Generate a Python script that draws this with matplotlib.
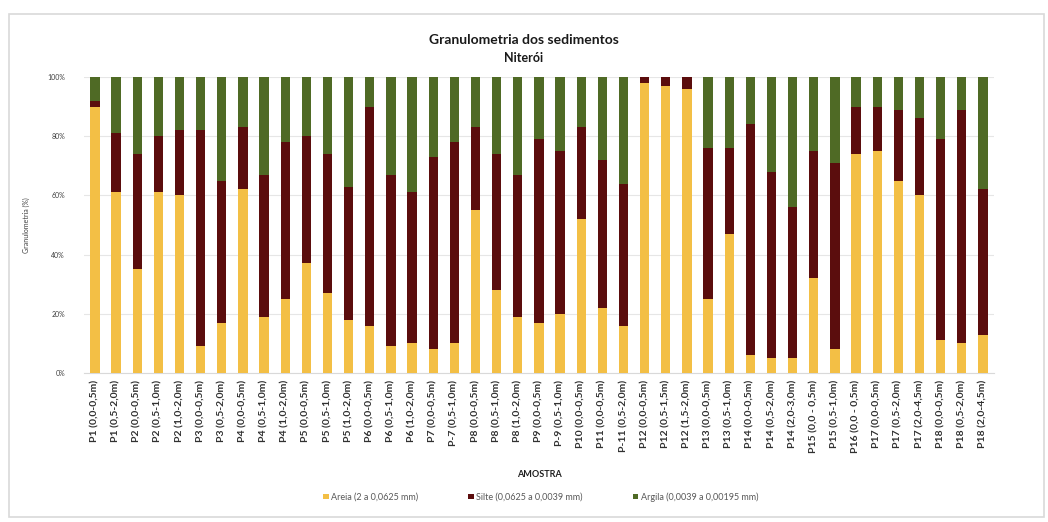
import matplotlib
matplotlib.use("Agg")
import matplotlib.pyplot as plt
import numpy as np
from matplotlib.patches import Rectangle
from matplotlib.ticker import PercentFormatter

plt.rcParams["font.family"] = ["Lato", "DejaVu Sans"]

amostras = [
    "P1 (0,0-0,5m)", "P1 (0,5-2,0m)", "P2 (0,0-0,5m)", "P2 (0,5-1,0m)", "P2 (1,0-2,0m)",
    "P3 (0,0-0,5m)", "P3 (0,5-2,0m)", "P4 (0,0-0,5m)", "P4 (0,5-1,0m)", "P4 (1,0-2,0m)",
    "P5 (0,0-0,5m)", "P5 (0,5-1,0m)", "P5 (1,0-2,0m)", "P6 (0,0-0,5m)", "P6 (0,5-1,0m)",
    "P6 (1,0-2,0m)", "P7 (0,0-0,5m)", "P-7 (0,5-1,0m)", "P8 (0,0-0,5m)", "P8 (0,5-1,0m)",
    "P8 (1,0-2,0m)", "P9 (0,0-0,5m)", "P-9 (0,5-1,0m)", "P10 (0,0-0,5m)", "P11 (0,0-0,5m)",
    "P-11 (0,5-2,0m)", "P12 (0,0-0,5m)", "P12 (0,5-1,5m)", "P12 (1,5-2,0m)", "P13 (0,0-0,5m)",
    "P13 (0,5-1,0m)", "P14 (0,0-0,5m)", "P14 (0,5-2,0m)", "P14 (2,0-3,0m)", "P15 (0,0 - 0,5m)",
    "P15 (0,5-1,0m)", "P16 (0,0 - 0,5m)", "P17 (0,0-0,5m)", "P17 (0,5-2,0m)", "P17 (2,0-4,5m)",
    "P18 (0,0-0,5m)", "P18 (0,5-2,0m)", "P18 (2,0-4,5m)",
]

# percentages
areia = [90, 61, 35, 61, 60, 9, 17, 62, 19, 25,
         37, 27, 18, 16, 9, 10, 8, 10, 55, 28,
         19, 17, 20, 52, 22, 16, 98, 97, 96, 25,
         47, 6, 5, 5, 32, 8, 74, 75, 65, 60,
         11, 10, 13]
silte = [2, 20, 39, 19, 22, 73, 48, 21, 48, 53,
         43, 47, 45, 74, 58, 51, 65, 68, 28, 46,
         48, 62, 55, 31, 50, 48, 2, 3, 4, 51,
         29, 78, 63, 51, 43, 63, 16, 15, 24, 26,
         68, 79, 49]
argila = [100 - a - s for a, s in zip(areia, silte)]

cor_areia = "#F3BF45"
cor_silte = "#5B0D0D"
cor_argila = "#4F6A25"

fig = plt.figure(figsize=(10.48, 5.22), dpi=100)
fig.patches.append(Rectangle((9 / 1048, 5 / 522), 1035 / 1048, 503 / 522,
                             transform=fig.transFigure, fill=False,
                             edgecolor="#d9d9d9", linewidth=1.2))

ax = fig.add_axes([0.0805, 0.2854, 0.8675, 0.5671])
x = np.arange(len(amostras))
w = 0.44
ax.bar(x, areia, w, color=cor_areia, label="Areia (2 a 0,0625 mm)", zorder=3)
ax.bar(x, silte, w, bottom=areia, color=cor_silte, label="Silte (0,0625 a 0,0039 mm)", zorder=3)
ax.bar(x, argila, w, bottom=np.add(areia, silte), color=cor_argila,
       label="Argila (0,0039 a 0,00195 mm)", zorder=3)

ax.set_xlim(-0.5, len(amostras) - 0.5)
ax.set_ylim(0, 100)
ax.set_yticks([0, 20, 40, 60, 80, 100])
ax.yaxis.set_major_formatter(PercentFormatter(decimals=0))
ax.grid(axis="y", color="#e6e6e6", linewidth=0.8, zorder=0)
for s in ["top", "right", "left"]:
    ax.spines[s].set_visible(False)
ax.spines["bottom"].set_color("#d9d9d9")
ax.tick_params(axis="both", length=0)
ax.tick_params(axis="y", labelsize=5, labelcolor="#404040", pad=14)
ax.tick_params(axis="x", pad=5)
ax.set_xticks(x)
ax.set_xticklabels(amostras, rotation=90, fontsize=7.5, fontweight="bold", color="#303030")
ax.set_ylabel("Granulometria (%)", fontsize=5, color="#404040", labelpad=12)
ax.set_xlabel("AMOSTRA", fontsize=6.5, fontweight="bold", color="#202020", labelpad=12)

fig.text(0.5, 0.923, "Granulometria dos sedimentos", ha="center", va="center",
         fontsize=10, fontweight="bold", color="#1a1a1a")
fig.text(0.5, 0.889, "Niterói", ha="center", va="center",
         fontsize=9, fontweight="bold", color="#1a1a1a")

fig.legend(loc="center", bbox_to_anchor=(0.516, 0.048), ncol=3, frameon=False,
           fontsize=6.5, handlelength=0.6, handleheight=0.6, columnspacing=5.5,
           handletextpad=0.3, labelcolor="#595959")

fig.savefig("out.png", dpi=100, facecolor="white")
